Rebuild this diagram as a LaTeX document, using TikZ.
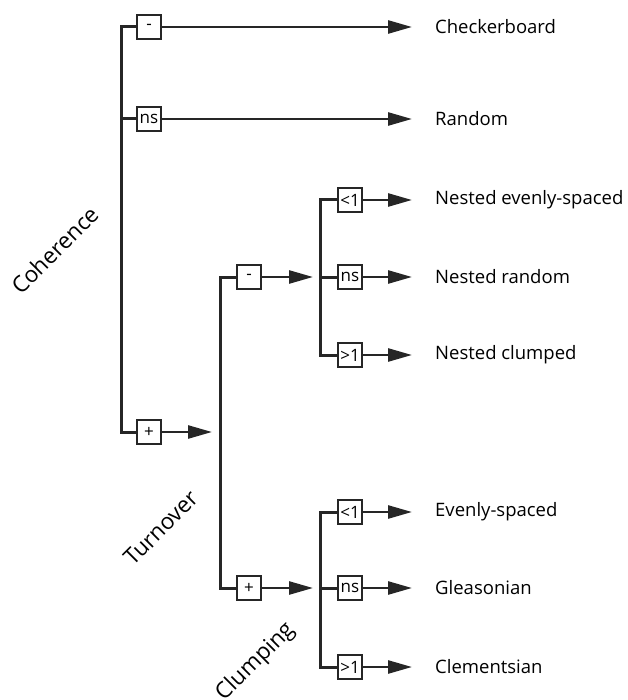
\documentclass[tikz,border=0pt]{standalone}
\usepackage{fontspec}
\setmainfont{Open Sans}
\usetikzlibrary{arrows.meta}
\tikzset{
  spine/.style   = {draw=black!85, line width=3pt},
  branch/.style  = {draw=black!85, line width=2.6pt,
                    -{Triangle[length=24pt,width=13pt]}},
  signbox/.style = {shape=rectangle, draw=black!85, line width=1.5pt,
                    fill=white, minimum width=24pt, minimum height=24pt,
                    inner sep=0pt, font=\fontsize{17}{17}\selectfont},
  outcome/.style = {anchor=west, inner sep=0pt,
                    font=\fontsize{18.5}{20}\selectfont},
  factor/.style  = {rotate=45, font=\fontsize{22.5}{24}\selectfont}
}
\begin{document}
\begin{tikzpicture}[x=1pt, y=-1pt]
  \useasboundingbox (0,0) rectangle (627,700);
  % coherence
  \node [factor] (coherence) at (55,250) {Coherence};
  \node [signbox] (coh-m)  at (149,27)  {-};
  \node [signbox] (coh-ns) at (149,119) {ns};
  \node [signbox] (coh-p)  at (149,432) {+};
  \coordinate (coh-s) at (121,432);
  \node [outcome] (checker) at (435,27)  {Checkerboard};
  \node [outcome] (random)  at (435,119) {Random};
  \draw [spine] (coh-m.west) -| (coh-s) -- (coh-p.west);
  \draw [spine] (coh-ns.west) -- (coh-ns.west -| coh-s);
  \draw [branch, shorten >=23pt] (coh-m) -- (checker.west);
  \draw [branch, shorten >=23pt] (coh-ns) -- (random.west);
  % turnover
  \node [factor] (turnover) at (161,528) {Turnover};
  \coordinate (tur-s) at (220,432);
  \node [signbox] (tur-m) at (249,277) {-};
  \node [signbox] (tur-p) at (249,588) {+};
  \draw [branch, shorten >=8pt] (coh-p) -- (tur-s);
  \draw [spine] (tur-m.west) -| (tur-s) |- (tur-p.west);
  % clumping
  \node [factor] (clumping) at (256,662) {Clumping};
  \coordinate (nest-s)  at (320,277);
  \coordinate (clump-s) at (320,588);
  \draw [branch, shorten >=7pt] (tur-m) -- (nest-s);
  \draw [branch, shorten >=7pt] (tur-p) -- (clump-s);
  \node [signbox] (nest-lt)  at (350,200) {<1};
  \node [signbox] (nest-ns)  at (350,277) {ns};
  \node [signbox] (nest-gt)  at (350,355) {>1};
  \node [signbox] (clump-lt) at (350,512) {<1};
  \node [signbox] (clump-ns) at (350,588) {ns};
  \node [signbox] (clump-gt) at (350,667) {>1};
  \node [outcome] (nest-even)   at (435,200) {Nested evenly-spaced};
  \node [outcome] (nest-random) at (435,277) {Nested random};
  \node [outcome] (nest-clump)  at (435,355) {Nested clumped};
  \node [outcome] (even)        at (435,512) {Evenly-spaced};
  \node [outcome] (gleason)     at (435,588) {Gleasonian};
  \node [outcome] (clement)     at (435,667) {Clementsian};
  \draw [spine] (nest-lt.west) -| (nest-s) |- (nest-gt.west);
  \draw [spine] (nest-ns.west) -- (nest-s);
  \draw [spine] (clump-lt.west) -| (clump-s) |- (clump-gt.west);
  \draw [spine] (clump-ns.west) -- (clump-s);
  \foreach \from/\to in {nest-lt/nest-even, nest-ns/nest-random,
                         nest-gt/nest-clump, clump-lt/even,
                         clump-ns/gleason, clump-gt/clement}
    \draw [branch, shorten >=23pt] (\from) -- (\to.west);
\end{tikzpicture}
\end{document}
